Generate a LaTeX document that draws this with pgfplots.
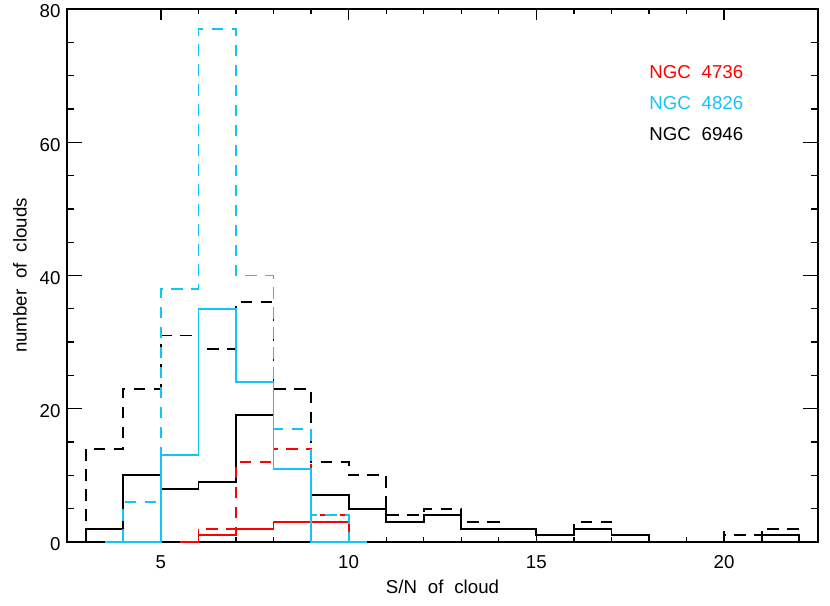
\documentclass[border=0pt]{standalone}
\usepackage{fontspec}
\setmainfont{Liberation Sans}[WordSpace=2.1]
\usepackage{pgfplots}
\pgfplotsset{compat=1.18}
\definecolor{ngccyan}{RGB}{20,195,250}
\definecolor{ngcred}{RGB}{255,0,0}
\begin{document}
\fontsize{11.2}{13}\selectfont
\begin{tikzpicture}
\begin{axis}[
  name=ax,
  scale only axis,
  width=450.6pt, height=319.8pt,
  xmin=2.5, xmax=22.5, ymin=0, ymax=80,
  xtick={5,10,15,20}, minor x tick num=4,
  ytick={0,20,40,60,80}, minor y tick num=3,
  tick align=inside,
  major tick length=9pt, minor tick length=4.5pt,
  xtick style={/pgfplots/major tick length=6.4pt,/pgfplots/minor tick length=3.2pt},
  axis line style={line width=0.9pt},
  every tick/.style={black,line width=0.8pt},
  /pgf/number format/assume math mode=true,
  tick label style={font=\fontsize{11.2}{13}\selectfont},
  xticklabel style={yshift=-4pt},
  yticklabel style={yshift=-1.5pt},
  label style={font=\fontsize{11.2}{13}\selectfont},
  xlabel={S/N of cloud},
  ylabel={number of clouds},
  x label style={at={(axis description cs:0.5,-0.0844)},anchor=center},
  y label style={at={(axis description cs:-0.0626,0.5)},anchor=center},
  every axis plot/.append style={line width=1.1pt, const plot mark left},
  clip=false,
]
% NGC 6946 solid
\addplot[black] coordinates {(2.5,0)(3,2)(4,10)(5,8)(6,9)(7,19)(8,11)(9,7)(10,5)(11,3)(12,4)(13,2)(14,2)(15,1)(16,2)(17,1)(18,0)(19,0)(20,0)(21,1)(22,0)};
% NGC 6946 dashed
\addplot[black, dash pattern=on 7pt off 5pt] coordinates {(2.5,0)(3,14)(4,23)(5,31)(6,29)(7,36)(8,23)(9,12)(10,10)(11,4)(12,5)(13,3)(14,2)(15,1)(16,3)(17,1)(18,0)(19,0)(20,1)(21,2)(22,0)};
% NGC 4736 solid
\addplot[ngcred] coordinates {(5.5,0)(6,1)(7,2)(8,3)(9,3)(10,0)(10.5,0)};
% NGC 4736 dashed
\addplot[ngcred, dash pattern=on 7pt off 5pt] coordinates {(5.5,0)(6,2)(7,12)(8,14)(9,4)(10,0)(10.5,0)};
% NGC 4826 solid
\addplot[ngccyan] coordinates {(3.5,0)(5,13)(6,35)(7,24)(8,11)(9,0)(10.5,0)};
% NGC 4826 dashed
\addplot[ngccyan, dash pattern=on 7pt off 5pt] coordinates {(3.5,0)(4,6)(5,38)(6,77)(7,40)(8,17)(9,4)(10,0)(10.5,0)};
\node[anchor=west, text=ngcred, inner sep=0pt] at (axis cs:18,70.6) {NGC 4736};
\node[anchor=west, text=ngccyan, inner sep=0pt] at (axis cs:18,65.9) {NGC 4826};
\node[anchor=west, text=black, inner sep=0pt] at (axis cs:18,61.3) {NGC 6946};
\end{axis}
\pgfresetboundingbox
\path[use as bounding box] ([xshift=-40.2pt,yshift=-38.4pt]ax.south west) rectangle ([xshift=7.2pt,yshift=5.4pt]ax.north east);
\end{tikzpicture}
\end{document}
